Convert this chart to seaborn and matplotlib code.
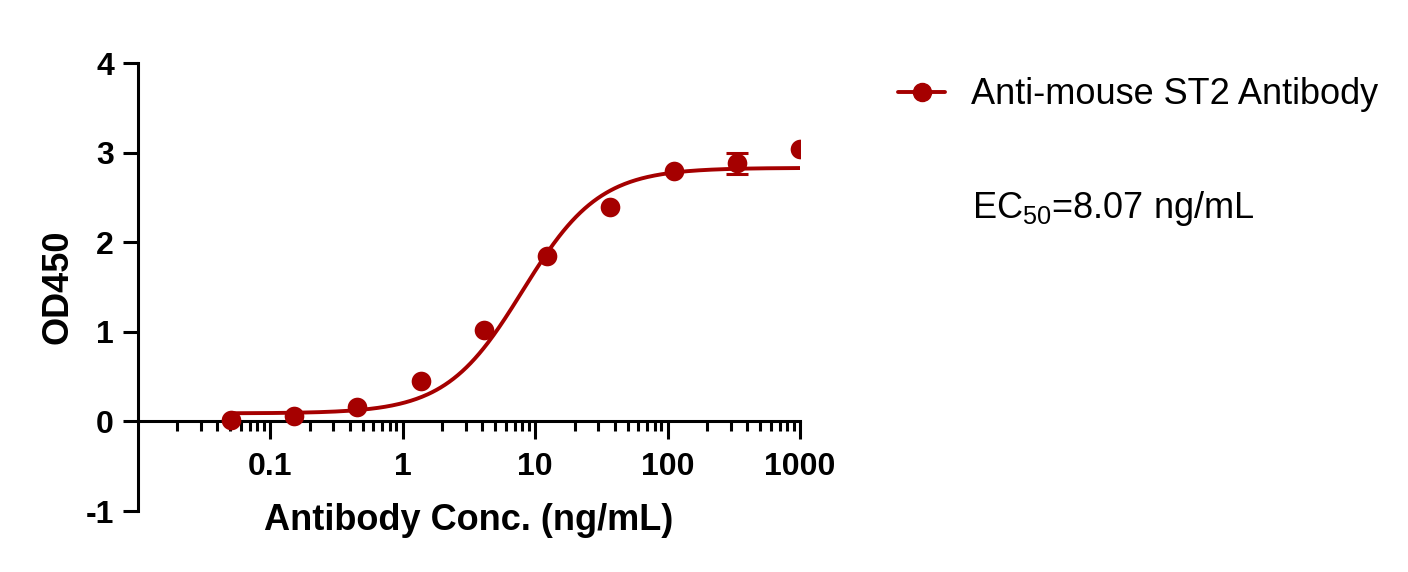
import numpy as np
import matplotlib
matplotlib.use("Agg")
import matplotlib.pyplot as plt
from matplotlib.lines import Line2D
from matplotlib.ticker import LogLocator, FixedLocator, NullFormatter
import seaborn as sns

# Data
conc = [0.0508, 0.152, 0.457, 1.37, 4.12, 12.3, 37.0, 111.0, 333.0, 1000.0]
od450 = [0.02, 0.06, 0.16, 0.45, 1.02, 1.85, 2.39, 2.79, 2.88, 3.04]
od_err = [0.0, 0.0, 0.0, 0.0, 0.0, 0.0, 0.0, 0.0, 0.12, 0.0]
x_ticks = [0.1, 1, 10, 100, 1000]
x_tick_labels = ['0.1', '1', '10', '100', '1000']
y_ticks = [-1, 0, 1, 2, 3, 4]

# 4PL fit parameters (EC50 as stated on the chart)
fit_bottom = 0.09
fit_top = 2.83
fit_ec50 = 8.07
fit_hill = 1.5

series_name = 'Anti-mouse ST2 Antibody'
color = '#A50000'

sns.set_style('ticks')
plt.rcParams['font.family'] = ['Liberation Sans', 'DejaVu Sans']
plt.rcParams['text.color'] = 'black'
plt.rcParams['axes.labelcolor'] = 'black'
plt.rcParams['xtick.color'] = 'black'
plt.rcParams['ytick.color'] = 'black'

fig = plt.figure(figsize=(14.08, 5.72), dpi=100)
ax = fig.add_axes([0.0977, 0.1066, 0.4705, 0.7832])

# fitted curve
x_fit = np.logspace(np.log10(conc[0]), np.log10(conc[-1]), 400)
y_fit = fit_bottom + (fit_top - fit_bottom) / (1 + (fit_ec50 / x_fit) ** fit_hill)
sns.lineplot(x=x_fit, y=y_fit, ax=ax, color=color, lw=2.8, zorder=2)

# error bars (only where they stick out of the marker)
err_idx = [i for i, e in enumerate(od_err) if e > 0]
ax.errorbar([conc[i] for i in err_idx], [od450[i] for i in err_idx],
            yerr=[od_err[i] for i in err_idx], fmt='none', ecolor=color,
            elinewidth=2.2, capsize=8, capthick=2.2, zorder=3)
sns.scatterplot(x=conc, y=od450, ax=ax, color=color, s=200, edgecolor=color,
                linewidth=0, zorder=4)

ax.set_xscale('log')
ax.set_xlim(0.01, 1000)
ax.set_ylim(-1, 4)

for side in ['top', 'right']:
    ax.spines[side].set_visible(False)
ax.spines['bottom'].set_position(('data', 0))
for side in ['left', 'bottom']:
    ax.spines[side].set_linewidth(2.2)
    ax.spines[side].set_color('black')

ax.xaxis.set_major_locator(FixedLocator(x_ticks))
ax.set_xticklabels(x_tick_labels)
ax.xaxis.set_minor_locator(LogLocator(base=10, subs=np.arange(2, 10)))
ax.xaxis.set_minor_formatter(NullFormatter())
ax.set_yticks(y_ticks)
ax.set_yticklabels([str(v) for v in y_ticks])

ax.tick_params(axis='x', which='major', direction='out', length=13, width=2.2,
               labelsize=23, pad=9, color='black', labelcolor='black')
ax.tick_params(axis='x', which='minor', direction='out', length=7, width=2.2, color='black')
ax.tick_params(axis='y', which='major', direction='out', length=11, width=2.2,
               labelsize=23, pad=6, color='black', labelcolor='black')
for lab in ax.get_xticklabels() + ax.get_yticklabels():
    lab.set_fontweight('bold')

ax.set_xlabel('Antibody Conc. (ng/mL)', fontsize=26, fontweight='bold', labelpad=15,
              color='black')
ax.set_ylabel('OD450', fontsize=26, fontweight='bold', labelpad=7, color='black')

handle = Line2D([], [], color=color, lw=2.8, marker='o', markersize=13)
fig.legend([handle], [series_name], loc='center left', bbox_to_anchor=(0.638, 0.834),
           frameon=False, fontsize=26, handlelength=1.3, handletextpad=0.72,
           borderpad=0, borderaxespad=0, labelcolor='black')

fig.text(0.69, 0.635, r'EC$_{\mathregular{50}}$=8.07 ng/mL', fontsize=26,
         ha='left', va='center', color='black')

fig.savefig('out.png', dpi=100)
